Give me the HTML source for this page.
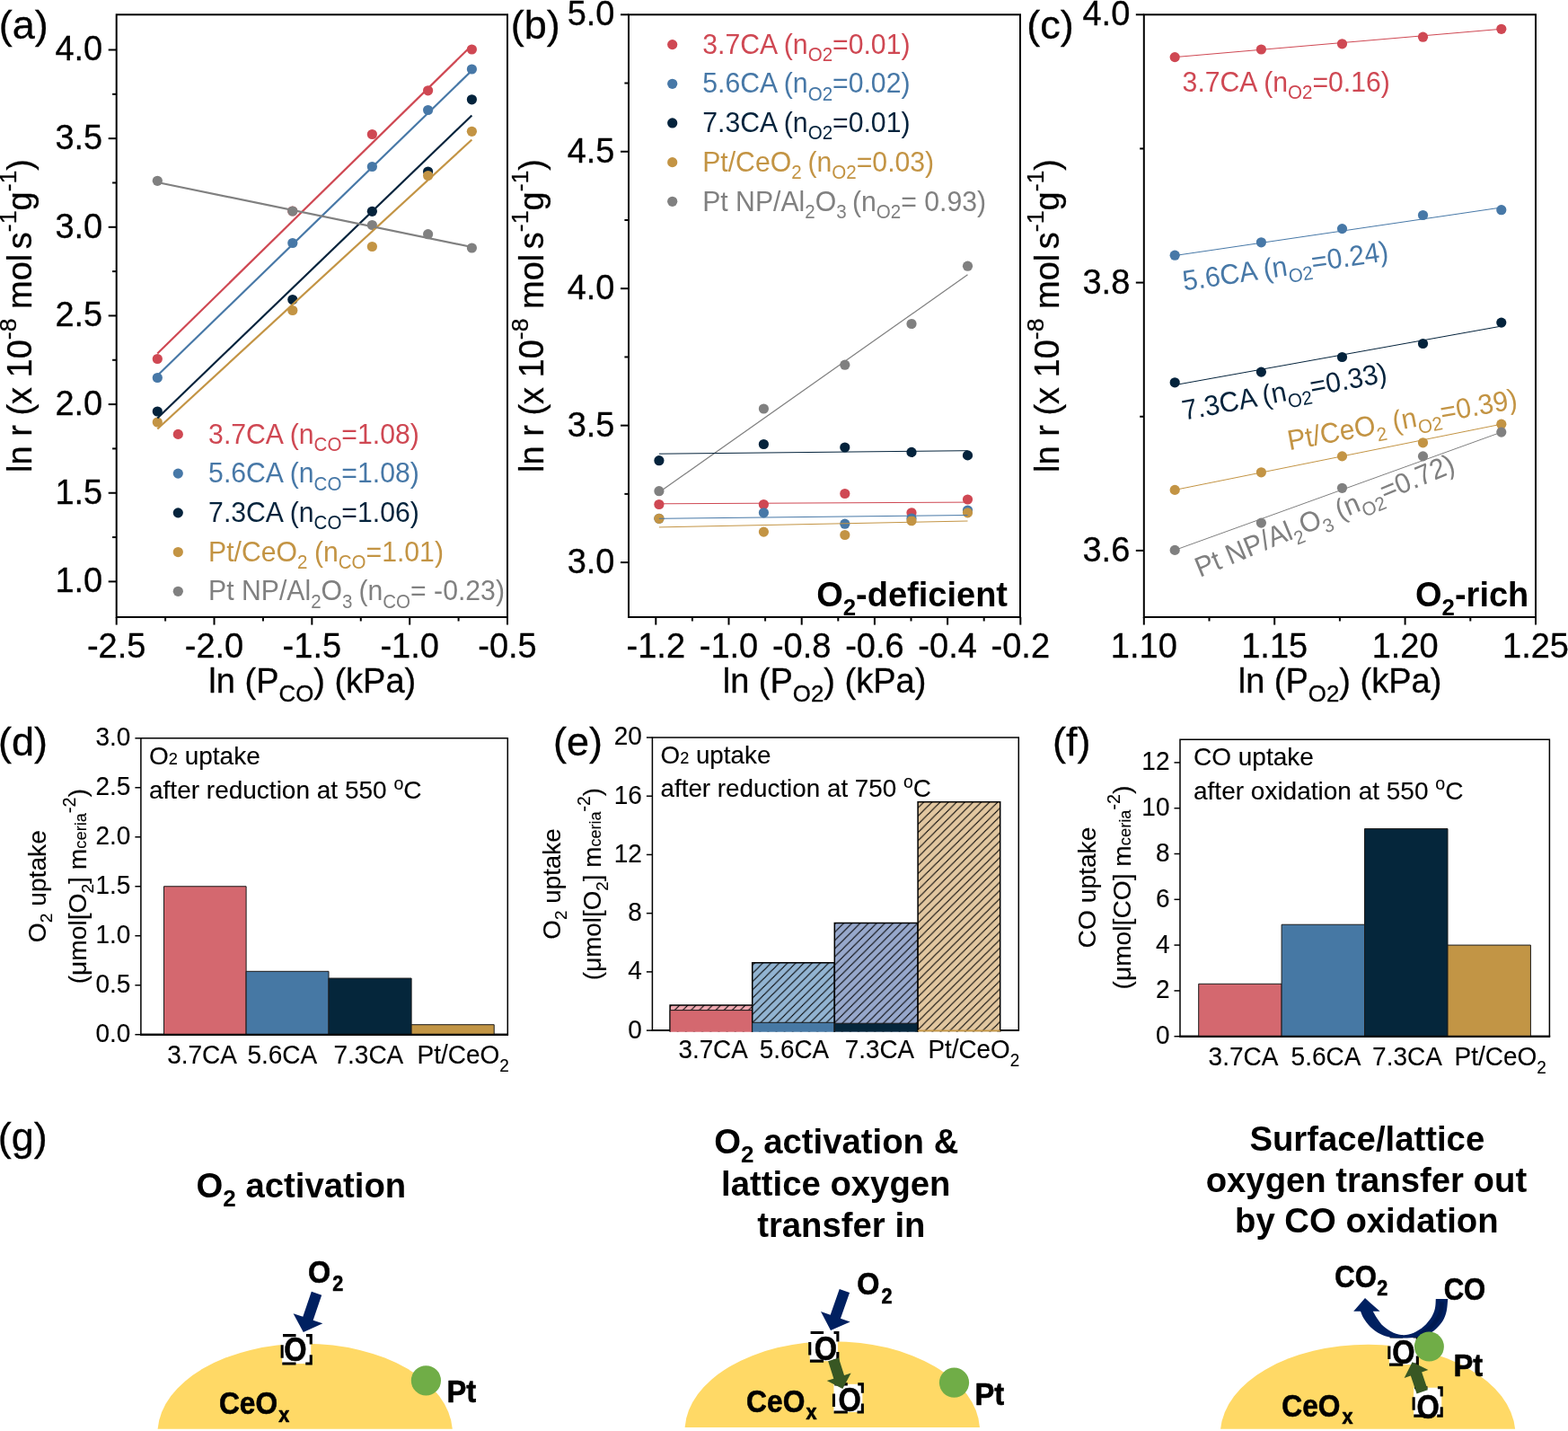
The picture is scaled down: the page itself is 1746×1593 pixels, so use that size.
<!DOCTYPE html>
<html lang="en"><head><meta charset="utf-8"><title>Figure</title>
<style>
html,body{margin:0;padding:0;background:#fff;}
body{width:1746px;height:1593px;overflow:hidden;}
svg{display:block;}
svg text{font-family:"Liberation Sans", Arial, sans-serif;}
</style></head><body>
<svg width="1746" height="1593" viewBox="0 0 1746 1593">
<defs>
<pattern id="hatch" patternUnits="userSpaceOnUse" width="9.15" height="9.15">
<path d="M-1,10.15 L10.15,-1 M-1,1 L1,-1 M8.15,10.15 L10.15,8.15" stroke="#000" stroke-width="1.1" fill="none"/>
</pattern>
</defs>
<rect width="1746" height="1593" fill="#fff"/>
<g id="panel-a">
<text font-size="45.00" stroke="#000" stroke-width="0.3" transform="translate(-1.30 43.00) scale(1 1.000)">(a)</text>
<circle cx="175.30" cy="399.50" r="5.60" fill="#cf4853"/>
<circle cx="325.80" cy="235.00" r="5.60" fill="#cf4853"/>
<circle cx="414.40" cy="149.50" r="5.60" fill="#cf4853"/>
<circle cx="476.60" cy="100.80" r="5.60" fill="#cf4853"/>
<circle cx="525.40" cy="55.00" r="5.60" fill="#cf4853"/>
<circle cx="175.30" cy="420.50" r="5.60" fill="#4778a7"/>
<circle cx="325.80" cy="270.50" r="5.60" fill="#4778a7"/>
<circle cx="414.40" cy="185.50" r="5.60" fill="#4778a7"/>
<circle cx="476.60" cy="122.50" r="5.60" fill="#4778a7"/>
<circle cx="525.40" cy="77.00" r="5.60" fill="#4778a7"/>
<circle cx="175.30" cy="458.00" r="5.60" fill="#04233c"/>
<circle cx="325.80" cy="333.50" r="5.60" fill="#04233c"/>
<circle cx="414.40" cy="235.30" r="5.60" fill="#04233c"/>
<circle cx="476.60" cy="191.00" r="5.60" fill="#04233c"/>
<circle cx="525.40" cy="110.80" r="5.60" fill="#04233c"/>
<circle cx="175.30" cy="470.00" r="5.60" fill="#c39444"/>
<circle cx="325.80" cy="345.50" r="5.60" fill="#c39444"/>
<circle cx="414.40" cy="274.50" r="5.60" fill="#c39444"/>
<circle cx="476.60" cy="195.50" r="5.60" fill="#c39444"/>
<circle cx="525.40" cy="146.30" r="5.60" fill="#c39444"/>
<circle cx="175.30" cy="201.30" r="5.60" fill="#808080"/>
<circle cx="325.80" cy="235.00" r="5.60" fill="#808080"/>
<circle cx="414.40" cy="250.50" r="5.60" fill="#808080"/>
<circle cx="476.60" cy="260.70" r="5.60" fill="#808080"/>
<circle cx="525.40" cy="276.00" r="5.60" fill="#808080"/>
<line x1="175.30" y1="393.50" x2="525.40" y2="50.50" stroke="#cf4853" stroke-width="2.2"/>
<line x1="175.30" y1="418.00" x2="525.40" y2="78.50" stroke="#4778a7" stroke-width="2.2"/>
<line x1="175.30" y1="465.50" x2="525.40" y2="128.50" stroke="#04233c" stroke-width="2.2"/>
<line x1="175.30" y1="477.50" x2="525.40" y2="155.50" stroke="#c39444" stroke-width="2.2"/>
<line x1="175.30" y1="203.00" x2="525.40" y2="275.00" stroke="#808080" stroke-width="2.2"/>
<rect x="129.70" y="16.30" width="435.30" height="670.70" fill="none" stroke="#000" stroke-width="2"/>
<line x1="120.70" y1="647.40" x2="129.70" y2="647.40" stroke="#000" stroke-width="2"/>
<text font-size="38.00" text-anchor="end" stroke="#000" stroke-width="0.3" transform="translate(114.20 659.30) scale(1 1.040)">1.0</text>
<line x1="120.70" y1="548.75" x2="129.70" y2="548.75" stroke="#000" stroke-width="2"/>
<text font-size="38.00" text-anchor="end" stroke="#000" stroke-width="0.3" transform="translate(114.20 560.65) scale(1 1.040)">1.5</text>
<line x1="120.70" y1="450.10" x2="129.70" y2="450.10" stroke="#000" stroke-width="2"/>
<text font-size="38.00" text-anchor="end" stroke="#000" stroke-width="0.3" transform="translate(114.20 462.00) scale(1 1.040)">2.0</text>
<line x1="120.70" y1="351.45" x2="129.70" y2="351.45" stroke="#000" stroke-width="2"/>
<text font-size="38.00" text-anchor="end" stroke="#000" stroke-width="0.3" transform="translate(114.20 363.35) scale(1 1.040)">2.5</text>
<line x1="120.70" y1="252.80" x2="129.70" y2="252.80" stroke="#000" stroke-width="2"/>
<text font-size="38.00" text-anchor="end" stroke="#000" stroke-width="0.3" transform="translate(114.20 264.70) scale(1 1.040)">3.0</text>
<line x1="120.70" y1="154.15" x2="129.70" y2="154.15" stroke="#000" stroke-width="2"/>
<text font-size="38.00" text-anchor="end" stroke="#000" stroke-width="0.3" transform="translate(114.20 166.05) scale(1 1.040)">3.5</text>
<line x1="120.70" y1="55.50" x2="129.70" y2="55.50" stroke="#000" stroke-width="2"/>
<text font-size="38.00" text-anchor="end" stroke="#000" stroke-width="0.3" transform="translate(114.20 67.40) scale(1 1.040)">4.0</text>
<line x1="125.10" y1="598.07" x2="129.70" y2="598.07" stroke="#000" stroke-width="2"/>
<line x1="125.10" y1="499.42" x2="129.70" y2="499.42" stroke="#000" stroke-width="2"/>
<line x1="125.10" y1="400.77" x2="129.70" y2="400.77" stroke="#000" stroke-width="2"/>
<line x1="125.10" y1="302.12" x2="129.70" y2="302.12" stroke="#000" stroke-width="2"/>
<line x1="125.10" y1="203.47" x2="129.70" y2="203.47" stroke="#000" stroke-width="2"/>
<line x1="125.10" y1="104.82" x2="129.70" y2="104.82" stroke="#000" stroke-width="2"/>
<line x1="129.70" y1="687.00" x2="129.70" y2="695.60" stroke="#000" stroke-width="2"/>
<text font-size="38.00" text-anchor="middle" stroke="#000" stroke-width="0.3" transform="translate(129.70 732.00) scale(1 1.040)">-2.5</text>
<line x1="238.52" y1="687.00" x2="238.52" y2="695.60" stroke="#000" stroke-width="2"/>
<text font-size="38.00" text-anchor="middle" stroke="#000" stroke-width="0.3" transform="translate(238.52 732.00) scale(1 1.040)">-2.0</text>
<line x1="347.35" y1="687.00" x2="347.35" y2="695.60" stroke="#000" stroke-width="2"/>
<text font-size="38.00" text-anchor="middle" stroke="#000" stroke-width="0.3" transform="translate(347.35 732.00) scale(1 1.040)">-1.5</text>
<line x1="456.18" y1="687.00" x2="456.18" y2="695.60" stroke="#000" stroke-width="2"/>
<text font-size="38.00" text-anchor="middle" stroke="#000" stroke-width="0.3" transform="translate(456.18 732.00) scale(1 1.040)">-1.0</text>
<line x1="565.00" y1="687.00" x2="565.00" y2="695.60" stroke="#000" stroke-width="2"/>
<text font-size="38.00" text-anchor="middle" stroke="#000" stroke-width="0.3" transform="translate(565.00 732.00) scale(1 1.040)">-0.5</text>
<line x1="184.11" y1="687.00" x2="184.11" y2="691.50" stroke="#000" stroke-width="2"/>
<line x1="292.94" y1="687.00" x2="292.94" y2="691.50" stroke="#000" stroke-width="2"/>
<line x1="401.76" y1="687.00" x2="401.76" y2="691.50" stroke="#000" stroke-width="2"/>
<line x1="510.59" y1="687.00" x2="510.59" y2="691.50" stroke="#000" stroke-width="2"/>
<text font-size="38.00" text-anchor="middle" stroke="#000" stroke-width="0.3" transform="translate(347.80 771.00) scale(1 1.000)">ln (P<tspan dy="10.07" font-size="25.84">CO</tspan><tspan dy="-10.07">) (kPa)</tspan></text>
<text font-size="38.00" text-anchor="middle" stroke="#000" stroke-width="0.3" transform="translate(34.60 351.50) rotate(-90) scale(1 1.000)">ln r (x 10<tspan dy="-16.34" font-size="26.60">-8</tspan><tspan dy="16.34"> mol</tspan><tspan dx="-5.00"> s</tspan><tspan dy="-16.34" font-size="26.60">-1</tspan><tspan dy="16.34">g</tspan><tspan dy="-16.34" font-size="26.60">-1</tspan><tspan dy="16.34">)</tspan></text>
<circle cx="198.30" cy="483.40" r="5.60" fill="#cf4853"/>
<text font-size="30.20" fill="#cf4853" transform="translate(232.10 493.50) scale(1 1.040)">3.7CA (n<tspan dy="8.00" font-size="20.54">CO</tspan><tspan dy="-8.00">=1.08)</tspan></text>
<circle cx="198.30" cy="527.12" r="5.60" fill="#4778a7"/>
<text font-size="30.20" fill="#4778a7" transform="translate(232.10 537.22) scale(1 1.040)">5.6CA (n<tspan dy="8.00" font-size="20.54">CO</tspan><tspan dy="-8.00">=1.08)</tspan></text>
<circle cx="198.30" cy="570.84" r="5.60" fill="#04233c"/>
<text font-size="30.20" fill="#04233c" transform="translate(232.10 580.94) scale(1 1.040)">7.3CA (n<tspan dy="8.00" font-size="20.54">CO</tspan><tspan dy="-8.00">=1.06)</tspan></text>
<circle cx="198.30" cy="614.56" r="5.60" fill="#c39444"/>
<text font-size="30.20" fill="#c39444" transform="translate(232.10 624.66) scale(1 1.040)">Pt/CeO<tspan dy="8.00" font-size="20.54">2</tspan><tspan dy="-8.00" dx="-1.00"> (n</tspan><tspan dy="8.00" font-size="20.54">CO</tspan><tspan dy="-8.00">=1.01)</tspan></text>
<circle cx="198.30" cy="658.28" r="5.60" fill="#808080"/>
<text font-size="30.20" fill="#808080" transform="translate(232.10 668.38) scale(1 1.040)">Pt NP/Al<tspan dy="8.00" font-size="20.54">2</tspan><tspan dy="-8.00">O</tspan><tspan dy="8.00" font-size="20.54">3</tspan><tspan dy="-8.00" dx="-1.50"> (n</tspan><tspan dy="8.00" font-size="20.54">CO</tspan><tspan dy="-8.00">= -0.23)</tspan></text>
</g>
<g id="panel-b">
<text font-size="45.00" stroke="#000" stroke-width="0.3" transform="translate(568.70 43.00) scale(1 1.000)">(b)</text>
<circle cx="733.90" cy="546.70" r="5.60" fill="#808080"/>
<circle cx="850.40" cy="455.00" r="5.60" fill="#808080"/>
<circle cx="940.80" cy="406.20" r="5.60" fill="#808080"/>
<circle cx="1015.00" cy="360.50" r="5.60" fill="#808080"/>
<circle cx="1077.50" cy="296.20" r="5.60" fill="#808080"/>
<circle cx="733.90" cy="512.70" r="5.60" fill="#04233c"/>
<circle cx="850.40" cy="494.50" r="5.60" fill="#04233c"/>
<circle cx="940.80" cy="498.00" r="5.60" fill="#04233c"/>
<circle cx="1015.00" cy="503.40" r="5.60" fill="#04233c"/>
<circle cx="1077.50" cy="506.90" r="5.60" fill="#04233c"/>
<circle cx="733.90" cy="561.50" r="5.60" fill="#cf4853"/>
<circle cx="850.40" cy="561.50" r="5.60" fill="#cf4853"/>
<circle cx="940.80" cy="549.50" r="5.60" fill="#cf4853"/>
<circle cx="1015.00" cy="570.80" r="5.60" fill="#cf4853"/>
<circle cx="1077.50" cy="556.00" r="5.60" fill="#cf4853"/>
<circle cx="733.90" cy="577.30" r="5.60" fill="#4778a7"/>
<circle cx="850.40" cy="570.80" r="5.60" fill="#4778a7"/>
<circle cx="940.80" cy="583.20" r="5.60" fill="#4778a7"/>
<circle cx="1015.00" cy="577.00" r="5.60" fill="#4778a7"/>
<circle cx="1077.50" cy="568.00" r="5.60" fill="#4778a7"/>
<circle cx="733.90" cy="577.30" r="5.60" fill="#c39444"/>
<circle cx="850.40" cy="592.10" r="5.60" fill="#c39444"/>
<circle cx="940.80" cy="595.50" r="5.60" fill="#c39444"/>
<circle cx="1015.00" cy="579.70" r="5.60" fill="#c39444"/>
<circle cx="1077.50" cy="570.80" r="5.60" fill="#c39444"/>
<line x1="733.90" y1="548.00" x2="1077.50" y2="305.80" stroke="#808080" stroke-width="1.25"/>
<line x1="733.90" y1="505.20" x2="1077.50" y2="501.70" stroke="#04233c" stroke-width="1"/>
<line x1="733.90" y1="560.80" x2="1077.50" y2="559.10" stroke="#cf4853" stroke-width="1"/>
<line x1="733.90" y1="577.30" x2="1077.50" y2="573.50" stroke="#4778a7" stroke-width="1"/>
<line x1="733.90" y1="586.90" x2="1077.50" y2="580.00" stroke="#c39444" stroke-width="1"/>
<rect x="700.00" y="16.30" width="436.00" height="670.70" fill="none" stroke="#000" stroke-width="2"/>
<line x1="691.00" y1="626.10" x2="700.00" y2="626.10" stroke="#000" stroke-width="2"/>
<text font-size="38.00" text-anchor="end" stroke="#000" stroke-width="0.3" transform="translate(684.50 638.00) scale(1 1.040)">3.0</text>
<line x1="691.00" y1="473.65" x2="700.00" y2="473.65" stroke="#000" stroke-width="2"/>
<text font-size="38.00" text-anchor="end" stroke="#000" stroke-width="0.3" transform="translate(684.50 485.55) scale(1 1.040)">3.5</text>
<line x1="691.00" y1="321.20" x2="700.00" y2="321.20" stroke="#000" stroke-width="2"/>
<text font-size="38.00" text-anchor="end" stroke="#000" stroke-width="0.3" transform="translate(684.50 333.10) scale(1 1.040)">4.0</text>
<line x1="691.00" y1="168.75" x2="700.00" y2="168.75" stroke="#000" stroke-width="2"/>
<text font-size="38.00" text-anchor="end" stroke="#000" stroke-width="0.3" transform="translate(684.50 180.65) scale(1 1.040)">4.5</text>
<line x1="691.00" y1="16.30" x2="700.00" y2="16.30" stroke="#000" stroke-width="2"/>
<text font-size="38.00" text-anchor="end" stroke="#000" stroke-width="0.3" transform="translate(684.50 28.20) scale(1 1.040)">5.0</text>
<line x1="695.40" y1="549.88" x2="700.00" y2="549.88" stroke="#000" stroke-width="2"/>
<line x1="695.40" y1="397.43" x2="700.00" y2="397.43" stroke="#000" stroke-width="2"/>
<line x1="695.40" y1="244.98" x2="700.00" y2="244.98" stroke="#000" stroke-width="2"/>
<line x1="695.40" y1="92.53" x2="700.00" y2="92.53" stroke="#000" stroke-width="2"/>
<line x1="730.30" y1="687.00" x2="730.30" y2="695.60" stroke="#000" stroke-width="2"/>
<text font-size="38.00" text-anchor="middle" stroke="#000" stroke-width="0.3" transform="translate(730.30 732.00) scale(1 1.040)">-1.2</text>
<line x1="811.50" y1="687.00" x2="811.50" y2="695.60" stroke="#000" stroke-width="2"/>
<text font-size="38.00" text-anchor="middle" stroke="#000" stroke-width="0.3" transform="translate(811.50 732.00) scale(1 1.040)">-1.0</text>
<line x1="892.70" y1="687.00" x2="892.70" y2="695.60" stroke="#000" stroke-width="2"/>
<text font-size="38.00" text-anchor="middle" stroke="#000" stroke-width="0.3" transform="translate(892.70 732.00) scale(1 1.040)">-0.8</text>
<line x1="973.90" y1="687.00" x2="973.90" y2="695.60" stroke="#000" stroke-width="2"/>
<text font-size="38.00" text-anchor="middle" stroke="#000" stroke-width="0.3" transform="translate(973.90 732.00) scale(1 1.040)">-0.6</text>
<line x1="1055.10" y1="687.00" x2="1055.10" y2="695.60" stroke="#000" stroke-width="2"/>
<text font-size="38.00" text-anchor="middle" stroke="#000" stroke-width="0.3" transform="translate(1055.10 732.00) scale(1 1.040)">-0.4</text>
<line x1="1136.30" y1="687.00" x2="1136.30" y2="695.60" stroke="#000" stroke-width="2"/>
<text font-size="38.00" text-anchor="middle" stroke="#000" stroke-width="0.3" transform="translate(1136.30 732.00) scale(1 1.040)">-0.2</text>
<line x1="770.90" y1="687.00" x2="770.90" y2="691.50" stroke="#000" stroke-width="2"/>
<line x1="852.10" y1="687.00" x2="852.10" y2="691.50" stroke="#000" stroke-width="2"/>
<line x1="933.30" y1="687.00" x2="933.30" y2="691.50" stroke="#000" stroke-width="2"/>
<line x1="1014.50" y1="687.00" x2="1014.50" y2="691.50" stroke="#000" stroke-width="2"/>
<line x1="1095.70" y1="687.00" x2="1095.70" y2="691.50" stroke="#000" stroke-width="2"/>
<text font-size="38.00" text-anchor="middle" stroke="#000" stroke-width="0.3" transform="translate(918.00 771.00) scale(1 1.000)">ln (P<tspan dy="10.07" font-size="25.84">O2</tspan><tspan dy="-10.07">) (kPa)</tspan></text>
<text font-size="38.00" text-anchor="middle" stroke="#000" stroke-width="0.3" transform="translate(604.80 351.50) rotate(-90) scale(1 1.000)">ln r (x 10<tspan dy="-16.34" font-size="26.60">-8</tspan><tspan dy="16.34"> mol</tspan><tspan dx="-5.00"> s</tspan><tspan dy="-16.34" font-size="26.60">-1</tspan><tspan dy="16.34">g</tspan><tspan dy="-16.34" font-size="26.60">-1</tspan><tspan dy="16.34">)</tspan></text>
<circle cx="748.70" cy="49.60" r="5.60" fill="#cf4853"/>
<text font-size="30.20" fill="#cf4853" transform="translate(782.20 59.80) scale(1 1.040)">3.7CA (n<tspan dy="8.00" font-size="20.54">O2</tspan><tspan dy="-8.00">=0.01)</tspan></text>
<circle cx="748.70" cy="93.28" r="5.60" fill="#4778a7"/>
<text font-size="30.20" fill="#4778a7" transform="translate(782.20 103.48) scale(1 1.040)">5.6CA (n<tspan dy="8.00" font-size="20.54">O2</tspan><tspan dy="-8.00">=0.02)</tspan></text>
<circle cx="748.70" cy="136.96" r="5.60" fill="#04233c"/>
<text font-size="30.20" fill="#04233c" transform="translate(782.20 147.16) scale(1 1.040)">7.3CA (n<tspan dy="8.00" font-size="20.54">O2</tspan><tspan dy="-8.00">=0.01)</tspan></text>
<circle cx="748.70" cy="180.64" r="5.60" fill="#c39444"/>
<text font-size="30.20" fill="#c39444" transform="translate(782.20 190.84) scale(1 1.040)">Pt/CeO<tspan dy="8.00" font-size="20.54">2</tspan><tspan dy="-8.00" dx="-1.50"> (n</tspan><tspan dy="8.00" font-size="20.54">O2</tspan><tspan dy="-8.00">=0.03)</tspan></text>
<circle cx="748.70" cy="224.32" r="5.60" fill="#808080"/>
<text font-size="30.20" fill="#808080" transform="translate(782.20 234.52) scale(1 1.040)">Pt NP/Al<tspan dy="8.00" font-size="20.54">2</tspan><tspan dy="-8.00">O</tspan><tspan dy="8.00" font-size="20.54">3</tspan><tspan dy="-8.00" dx="-2.00"> (n</tspan><tspan dy="8.00" font-size="20.54">O2</tspan><tspan dy="-8.00">= 0.93)</tspan></text>
<text font-size="38.00" text-anchor="end" font-weight="bold" transform="translate(1122.00 675.00) scale(1 1.000)">O<tspan dy="10.07" font-size="25.84">2</tspan><tspan dy="-10.07">-deficient</tspan></text>
</g>
<g id="panel-c">
<text font-size="45.00" stroke="#000" stroke-width="0.3" transform="translate(1143.20 43.00) scale(1 1.000)">(c)</text>
<line x1="1308.20" y1="63.60" x2="1671.80" y2="32.30" stroke="#cf4853" stroke-width="1"/>
<line x1="1308.20" y1="284.50" x2="1671.80" y2="231.00" stroke="#4778a7" stroke-width="1"/>
<line x1="1308.20" y1="428.60" x2="1671.80" y2="363.10" stroke="#04233c" stroke-width="1"/>
<line x1="1308.20" y1="545.40" x2="1671.80" y2="472.20" stroke="#c39444" stroke-width="1"/>
<line x1="1308.20" y1="612.40" x2="1671.80" y2="481.10" stroke="#808080" stroke-width="1"/>
<circle cx="1308.20" cy="63.60" r="5.60" fill="#cf4853"/>
<circle cx="1404.40" cy="55.00" r="5.60" fill="#cf4853"/>
<circle cx="1494.50" cy="48.80" r="5.60" fill="#cf4853"/>
<circle cx="1584.50" cy="41.20" r="5.60" fill="#cf4853"/>
<circle cx="1671.80" cy="32.30" r="5.60" fill="#cf4853"/>
<circle cx="1308.20" cy="284.20" r="5.60" fill="#4778a7"/>
<circle cx="1404.40" cy="269.80" r="5.60" fill="#4778a7"/>
<circle cx="1494.50" cy="254.60" r="5.60" fill="#4778a7"/>
<circle cx="1584.50" cy="239.50" r="5.60" fill="#4778a7"/>
<circle cx="1671.80" cy="233.70" r="5.60" fill="#4778a7"/>
<circle cx="1308.20" cy="425.80" r="5.60" fill="#04233c"/>
<circle cx="1404.40" cy="414.10" r="5.60" fill="#04233c"/>
<circle cx="1494.50" cy="397.50" r="5.60" fill="#04233c"/>
<circle cx="1584.50" cy="382.50" r="5.60" fill="#04233c"/>
<circle cx="1671.80" cy="359.10" r="5.60" fill="#04233c"/>
<circle cx="1308.20" cy="545.40" r="5.60" fill="#c39444"/>
<circle cx="1404.40" cy="525.80" r="5.60" fill="#c39444"/>
<circle cx="1494.50" cy="507.90" r="5.60" fill="#c39444"/>
<circle cx="1584.50" cy="492.80" r="5.60" fill="#c39444"/>
<circle cx="1671.80" cy="472.20" r="5.60" fill="#c39444"/>
<circle cx="1308.20" cy="612.40" r="5.60" fill="#808080"/>
<circle cx="1404.40" cy="582.10" r="5.60" fill="#808080"/>
<circle cx="1494.50" cy="543.30" r="5.60" fill="#808080"/>
<circle cx="1584.50" cy="507.90" r="5.60" fill="#808080"/>
<circle cx="1671.80" cy="481.10" r="5.60" fill="#808080"/>
<rect x="1273.80" y="16.30" width="436.20" height="670.70" fill="none" stroke="#000" stroke-width="2"/>
<line x1="1264.80" y1="612.90" x2="1273.80" y2="612.90" stroke="#000" stroke-width="2"/>
<text font-size="38.00" text-anchor="end" stroke="#000" stroke-width="0.3" transform="translate(1258.30 624.80) scale(1 1.040)">3.6</text>
<line x1="1264.80" y1="314.60" x2="1273.80" y2="314.60" stroke="#000" stroke-width="2"/>
<text font-size="38.00" text-anchor="end" stroke="#000" stroke-width="0.3" transform="translate(1258.30 326.50) scale(1 1.040)">3.8</text>
<line x1="1264.80" y1="16.30" x2="1273.80" y2="16.30" stroke="#000" stroke-width="2"/>
<text font-size="38.00" text-anchor="end" stroke="#000" stroke-width="0.3" transform="translate(1258.30 28.20) scale(1 1.040)">4.0</text>
<line x1="1269.20" y1="463.75" x2="1273.80" y2="463.75" stroke="#000" stroke-width="2"/>
<line x1="1269.20" y1="165.45" x2="1273.80" y2="165.45" stroke="#000" stroke-width="2"/>
<line x1="1273.80" y1="687.00" x2="1273.80" y2="695.60" stroke="#000" stroke-width="2"/>
<text font-size="38.00" text-anchor="middle" stroke="#000" stroke-width="0.3" transform="translate(1273.80 732.00) scale(1 1.040)">1.10</text>
<line x1="1419.20" y1="687.00" x2="1419.20" y2="695.60" stroke="#000" stroke-width="2"/>
<text font-size="38.00" text-anchor="middle" stroke="#000" stroke-width="0.3" transform="translate(1419.20 732.00) scale(1 1.040)">1.15</text>
<line x1="1564.60" y1="687.00" x2="1564.60" y2="695.60" stroke="#000" stroke-width="2"/>
<text font-size="38.00" text-anchor="middle" stroke="#000" stroke-width="0.3" transform="translate(1564.60 732.00) scale(1 1.040)">1.20</text>
<line x1="1710.00" y1="687.00" x2="1710.00" y2="695.60" stroke="#000" stroke-width="2"/>
<text font-size="38.00" text-anchor="middle" stroke="#000" stroke-width="0.3" transform="translate(1710.00 732.00) scale(1 1.040)">1.25</text>
<line x1="1346.50" y1="687.00" x2="1346.50" y2="691.50" stroke="#000" stroke-width="2"/>
<line x1="1491.90" y1="687.00" x2="1491.90" y2="691.50" stroke="#000" stroke-width="2"/>
<line x1="1637.30" y1="687.00" x2="1637.30" y2="691.50" stroke="#000" stroke-width="2"/>
<text font-size="38.00" text-anchor="middle" stroke="#000" stroke-width="0.3" transform="translate(1492.00 771.00) scale(1 1.000)">ln (P<tspan dy="10.07" font-size="25.84">O2</tspan><tspan dy="-10.07">) (kPa)</tspan></text>
<text font-size="38.00" text-anchor="middle" stroke="#000" stroke-width="0.3" transform="translate(1178.50 351.50) rotate(-90) scale(1 1.000)">ln r (x 10<tspan dy="-16.34" font-size="26.60">-8</tspan><tspan dy="16.34"> mol</tspan><tspan dx="-5.00"> s</tspan><tspan dy="-16.34" font-size="26.60">-1</tspan><tspan dy="16.34">g</tspan><tspan dy="-16.34" font-size="26.60">-1</tspan><tspan dy="16.34">)</tspan></text>
<text font-size="30.20" fill="#cf4853" transform="translate(1316.60 102.00) scale(1 1.040)">3.7CA (n<tspan dy="8.00" font-size="20.54">O2</tspan><tspan dy="-8.00">=0.16)</tspan></text>
<text font-size="30.20" fill="#4778a7" transform="translate(1318.50 323.60) rotate(-8.4) scale(1 1.040)">5.6CA (n<tspan dy="8.00" font-size="20.54">O2</tspan><tspan dy="-8.00">=0.24)</tspan></text>
<text font-size="30.20" fill="#04233c" transform="translate(1318.50 467.80) rotate(-10.7) scale(1 1.040)">7.3CA (n<tspan dy="8.00" font-size="20.54">O2</tspan><tspan dy="-8.00">=0.33)</tspan></text>
<text font-size="30.20" fill="#c39444" transform="translate(1435.70 501.30) rotate(-10.5) scale(1 1.040)">Pt/CeO<tspan dy="8.00" font-size="20.54">2</tspan><tspan dy="-8.00"> (n</tspan><tspan dy="8.00" font-size="20.54">O2</tspan><tspan dy="-8.00">=0.39)</tspan></text>
<text font-size="30.20" fill="#808080" transform="translate(1336.00 643.00) rotate(-22.5) scale(1 1.040)">Pt NP/Al<tspan dy="8.00" font-size="20.54">2</tspan><tspan dy="-8.00">O</tspan><tspan dy="8.00" font-size="20.54">3</tspan><tspan dy="-8.00"> (n</tspan><tspan dy="8.00" font-size="20.54">O2</tspan><tspan dy="-8.00">=0.72)</tspan></text>
<text font-size="38.00" text-anchor="end" font-weight="bold" transform="translate(1702.30 675.00) scale(1 1.000)">O<tspan dy="10.07" font-size="25.84">2</tspan><tspan dy="-10.07">-rich</tspan></text>
</g>
<g id="panel-d">
<text font-size="45.00" stroke="#000" stroke-width="0.3" transform="translate(-1.90 840.70) scale(1 1.000)">(d)</text>
<path d="M156.90,1151.70 L156.90,821.80 L565.30,821.80 L565.30,1151.70" fill="none" stroke="#000" stroke-width="1.5"/>
<line x1="156.15" y1="1151.70" x2="566.05" y2="1151.70" stroke="#000" stroke-width="2"/>
<rect x="182.50" y="986.75" width="91.60" height="164.95" fill="#d4686f" stroke="none" stroke-width="1"/>
<path d="M182.50,1151.70 L182.50,986.75 L274.10,986.75 L274.10,1151.70" fill="none" stroke="#1a1a1a" stroke-width="1"/>
<rect x="274.10" y="1081.32" width="91.90" height="70.38" fill="#4678a4" stroke="none" stroke-width="1"/>
<path d="M274.10,1151.70 L274.10,1081.32 L366.00,1081.32 L366.00,1151.70" fill="none" stroke="#1a1a1a" stroke-width="1"/>
<rect x="366.00" y="1089.02" width="92.10" height="62.68" fill="#05263b" stroke="none" stroke-width="1"/>
<path d="M366.00,1151.70 L366.00,1089.02 L458.10,1089.02 L458.10,1151.70" fill="none" stroke="#1a1a1a" stroke-width="1"/>
<rect x="458.10" y="1140.70" width="92.10" height="11.00" fill="#c29545" stroke="none" stroke-width="1"/>
<path d="M458.10,1151.70 L458.10,1140.70 L550.20,1140.70 L550.20,1151.70" fill="none" stroke="#1a1a1a" stroke-width="1"/>
<line x1="156.15" y1="1151.70" x2="566.05" y2="1151.70" stroke="#000" stroke-width="2"/>
<line x1="150.40" y1="1151.70" x2="156.90" y2="1151.70" stroke="#000" stroke-width="1.5"/>
<text font-size="28.00" text-anchor="end" stroke="#000" stroke-width="0.12" transform="translate(145.40 1160.10) scale(1 1.040)">0.0</text>
<line x1="150.40" y1="1096.72" x2="156.90" y2="1096.72" stroke="#000" stroke-width="1.5"/>
<text font-size="28.00" text-anchor="end" stroke="#000" stroke-width="0.12" transform="translate(145.40 1105.12) scale(1 1.040)">0.5</text>
<line x1="150.40" y1="1041.73" x2="156.90" y2="1041.73" stroke="#000" stroke-width="1.5"/>
<text font-size="28.00" text-anchor="end" stroke="#000" stroke-width="0.12" transform="translate(145.40 1050.13) scale(1 1.040)">1.0</text>
<line x1="150.40" y1="986.75" x2="156.90" y2="986.75" stroke="#000" stroke-width="1.5"/>
<text font-size="28.00" text-anchor="end" stroke="#000" stroke-width="0.12" transform="translate(145.40 995.15) scale(1 1.040)">1.5</text>
<line x1="150.40" y1="931.76" x2="156.90" y2="931.76" stroke="#000" stroke-width="1.5"/>
<text font-size="28.00" text-anchor="end" stroke="#000" stroke-width="0.12" transform="translate(145.40 940.16) scale(1 1.040)">2.0</text>
<line x1="150.40" y1="876.78" x2="156.90" y2="876.78" stroke="#000" stroke-width="1.5"/>
<text font-size="28.00" text-anchor="end" stroke="#000" stroke-width="0.12" transform="translate(145.40 885.18) scale(1 1.040)">2.5</text>
<line x1="150.40" y1="821.79" x2="156.90" y2="821.79" stroke="#000" stroke-width="1.5"/>
<text font-size="28.00" text-anchor="end" stroke="#000" stroke-width="0.12" transform="translate(145.40 830.19) scale(1 1.040)">3.0</text>
<text font-size="28.00" stroke="#000" stroke-width="0.12" transform="translate(166.00 850.70) scale(1 1.000)">O<tspan dy="0.00" font-size="18.20">2</tspan> uptake</text>
<text font-size="28.00" stroke="#000" stroke-width="0.12" transform="translate(166.00 889.00) scale(1 1.000)">after reduction at 550 <tspan dy="-10.36" font-size="19.60">o</tspan><tspan dy="10.36">C</tspan></text>
<text font-size="28.20" text-anchor="middle" stroke="#000" stroke-width="0.12" transform="translate(50.70 986.70) rotate(-90) scale(1 1.000)">O<tspan dy="7.47" font-size="19.18">2</tspan><tspan dy="-7.47"> uptake</tspan></text>
<text font-size="28.20" text-anchor="middle" stroke="#000" stroke-width="0.12" transform="translate(96.20 986.70) rotate(-90) scale(1 1.000)">(μmol[O<tspan dy="7.47" font-size="19.18">2</tspan><tspan dy="-7.47">] m</tspan><tspan dy="0.00" font-size="18.33">ceria</tspan><tspan dy="-12.13" font-size="19.74">-2</tspan><tspan dy="12.13">)</tspan></text>
<text font-size="28.00" text-anchor="middle" stroke="#000" stroke-width="0.12" transform="translate(225.10 1183.80) scale(1 1.040)">3.7CA</text>
<text font-size="28.00" text-anchor="middle" stroke="#000" stroke-width="0.12" transform="translate(314.30 1183.80) scale(1 1.040)">5.6CA</text>
<text font-size="28.00" text-anchor="middle" stroke="#000" stroke-width="0.12" transform="translate(410.40 1183.80) scale(1 1.040)">7.3CA</text>
<text font-size="28.00" stroke="#000" stroke-width="0.12" transform="translate(464.60 1183.80) scale(1 1.040)">Pt/CeO<tspan dy="8.96" font-size="19.04">2</tspan></text>
</g>
<g id="panel-e">
<text font-size="45.00" stroke="#000" stroke-width="0.3" transform="translate(616.00 840.70) scale(1 1.000)">(e)</text>
<path d="M726.40,1147.10 L726.40,821.00 L1134.30,821.00 L1134.30,1147.10" fill="none" stroke="#000" stroke-width="1.5"/>
<line x1="725.65" y1="1147.10" x2="1135.05" y2="1147.10" stroke="#000" stroke-width="2"/>
<rect x="746.10" y="1119.10" width="91.60" height="29.50" fill="#efa9b1" stroke="none" stroke-width="1"/>
<rect x="746.10" y="1119.10" width="91.60" height="29.50" fill="url(#hatch)" stroke="none" stroke-width="1"/>
<path d="M746.10,1148.60 L746.10,1119.10 L837.70,1119.10 L837.70,1148.60" fill="none" stroke="#000" stroke-width="1.5"/>
<rect x="746.10" y="1124.60" width="91.60" height="24.00" fill="#d4686f" stroke="none" stroke-width="1"/>
<path d="M746.10,1148.60 L746.10,1124.60 L837.70,1124.60 L837.70,1148.60" fill="none" stroke="#1a1a1a" stroke-width="1"/>
<rect x="837.70" y="1071.80" width="91.60" height="76.80" fill="#92b4d2" stroke="none" stroke-width="1"/>
<rect x="837.70" y="1071.80" width="91.60" height="76.80" fill="url(#hatch)" stroke="none" stroke-width="1"/>
<path d="M837.70,1148.60 L837.70,1071.80 L929.30,1071.80 L929.30,1148.60" fill="none" stroke="#000" stroke-width="1.5"/>
<rect x="837.70" y="1138.30" width="91.60" height="10.30" fill="#4678a4" stroke="none" stroke-width="1"/>
<path d="M837.70,1148.60 L837.70,1138.30 L929.30,1138.30 L929.30,1148.60" fill="none" stroke="#1a1a1a" stroke-width="1"/>
<rect x="929.30" y="1027.50" width="92.80" height="121.10" fill="#97a8cc" stroke="none" stroke-width="1"/>
<rect x="929.30" y="1027.50" width="92.80" height="121.10" fill="url(#hatch)" stroke="none" stroke-width="1"/>
<path d="M929.30,1148.60 L929.30,1027.50 L1022.10,1027.50 L1022.10,1148.60" fill="none" stroke="#000" stroke-width="1.5"/>
<rect x="929.30" y="1139.20" width="92.80" height="9.40" fill="#05263b" stroke="none" stroke-width="1"/>
<path d="M929.30,1148.60 L929.30,1139.20 L1022.10,1139.20 L1022.10,1148.60" fill="none" stroke="#1a1a1a" stroke-width="1"/>
<rect x="1022.10" y="892.80" width="91.60" height="255.80" fill="#e2c7a0" stroke="none" stroke-width="1"/>
<rect x="1022.10" y="892.80" width="91.60" height="255.80" fill="url(#hatch)" stroke="none" stroke-width="1"/>
<path d="M1022.10,1148.60 L1022.10,892.80 L1113.70,892.80 L1113.70,1148.60" fill="none" stroke="#000" stroke-width="1.5"/>
<rect x="1022.10" y="1146.60" width="91.60" height="1.60" fill="#c29545" stroke="none" stroke-width="1"/>
<line x1="719.90" y1="1147.10" x2="726.40" y2="1147.10" stroke="#000" stroke-width="1.5"/>
<text font-size="28.00" text-anchor="end" stroke="#000" stroke-width="0.12" transform="translate(714.90 1155.50) scale(1 1.040)">0</text>
<line x1="719.90" y1="1081.88" x2="726.40" y2="1081.88" stroke="#000" stroke-width="1.5"/>
<text font-size="28.00" text-anchor="end" stroke="#000" stroke-width="0.12" transform="translate(714.90 1090.28) scale(1 1.040)">4</text>
<line x1="719.90" y1="1016.66" x2="726.40" y2="1016.66" stroke="#000" stroke-width="1.5"/>
<text font-size="28.00" text-anchor="end" stroke="#000" stroke-width="0.12" transform="translate(714.90 1025.06) scale(1 1.040)">8</text>
<line x1="719.90" y1="951.44" x2="726.40" y2="951.44" stroke="#000" stroke-width="1.5"/>
<text font-size="28.00" text-anchor="end" stroke="#000" stroke-width="0.12" transform="translate(714.90 959.84) scale(1 1.040)">12</text>
<line x1="719.90" y1="886.22" x2="726.40" y2="886.22" stroke="#000" stroke-width="1.5"/>
<text font-size="28.00" text-anchor="end" stroke="#000" stroke-width="0.12" transform="translate(714.90 894.62) scale(1 1.040)">16</text>
<line x1="719.90" y1="821.00" x2="726.40" y2="821.00" stroke="#000" stroke-width="1.5"/>
<text font-size="28.00" text-anchor="end" stroke="#000" stroke-width="0.12" transform="translate(714.90 829.40) scale(1 1.040)">20</text>
<text font-size="27.80" stroke="#000" stroke-width="0.12" transform="translate(735.50 850.00) scale(1 1.000)">O<tspan dy="0.00" font-size="18.07">2</tspan> uptake</text>
<text font-size="27.80" stroke="#000" stroke-width="0.12" transform="translate(735.50 886.80) scale(1 1.000)">after reduction at 750 <tspan dy="-10.29" font-size="19.46">o</tspan><tspan dy="10.29">C</tspan></text>
<text font-size="27.80" text-anchor="middle" stroke="#000" stroke-width="0.12" transform="translate(624.00 984.00) rotate(-90) scale(1 1.000)">O<tspan dy="7.37" font-size="18.90">2</tspan><tspan dy="-7.37"> uptake</tspan></text>
<text font-size="27.80" text-anchor="middle" stroke="#000" stroke-width="0.12" transform="translate(669.20 984.00) rotate(-90) scale(1 1.000)">(μmol[O<tspan dy="7.37" font-size="18.90">2</tspan><tspan dy="-7.37">] m</tspan><tspan dy="0.00" font-size="18.07">ceria</tspan><tspan dy="-11.95" font-size="19.46">-2</tspan><tspan dy="11.95">)</tspan></text>
<text font-size="27.80" text-anchor="middle" stroke="#000" stroke-width="0.12" transform="translate(794.10 1177.80) scale(1 1.040)">3.7CA</text>
<text font-size="27.80" text-anchor="middle" stroke="#000" stroke-width="0.12" transform="translate(884.40 1177.80) scale(1 1.040)">5.6CA</text>
<text font-size="27.80" text-anchor="middle" stroke="#000" stroke-width="0.12" transform="translate(979.50 1177.80) scale(1 1.040)">7.3CA</text>
<text font-size="27.80" stroke="#000" stroke-width="0.12" transform="translate(1033.50 1177.80) scale(1 1.040)">Pt/CeO<tspan dy="8.90" font-size="18.90">2</tspan></text>
</g>
<g id="panel-f">
<text font-size="45.00" stroke="#000" stroke-width="0.3" transform="translate(1172.00 840.70) scale(1 1.000)">(f)</text>
<path d="M1314.00,1153.70 L1314.00,823.30 L1725.40,823.30 L1725.40,1153.70" fill="none" stroke="#000" stroke-width="1.5"/>
<line x1="1313.25" y1="1153.70" x2="1726.15" y2="1153.70" stroke="#000" stroke-width="2"/>
<rect x="1334.70" y="1095.28" width="92.40" height="58.42" fill="#d4686f" stroke="none" stroke-width="1"/>
<path d="M1334.70,1153.70 L1334.70,1095.28 L1427.10,1095.28 L1427.10,1153.70" fill="none" stroke="#1a1a1a" stroke-width="1"/>
<rect x="1427.10" y="1029.24" width="92.40" height="124.46" fill="#4678a4" stroke="none" stroke-width="1"/>
<path d="M1427.10,1153.70 L1427.10,1029.24 L1519.50,1029.24 L1519.50,1153.70" fill="none" stroke="#1a1a1a" stroke-width="1"/>
<rect x="1519.50" y="922.56" width="92.50" height="231.14" fill="#05263b" stroke="none" stroke-width="1"/>
<path d="M1519.50,1153.70 L1519.50,922.56 L1612.00,922.56 L1612.00,1153.70" fill="none" stroke="#1a1a1a" stroke-width="1"/>
<rect x="1612.00" y="1052.10" width="92.40" height="101.60" fill="#c29545" stroke="none" stroke-width="1"/>
<path d="M1612.00,1153.70 L1612.00,1052.10 L1704.40,1052.10 L1704.40,1153.70" fill="none" stroke="#1a1a1a" stroke-width="1"/>
<line x1="1313.25" y1="1153.70" x2="1726.15" y2="1153.70" stroke="#000" stroke-width="2"/>
<line x1="1307.50" y1="1153.70" x2="1314.00" y2="1153.70" stroke="#000" stroke-width="1.5"/>
<text font-size="28.00" text-anchor="end" stroke="#000" stroke-width="0.12" transform="translate(1302.50 1162.10) scale(1 1.040)">0</text>
<line x1="1307.50" y1="1102.90" x2="1314.00" y2="1102.90" stroke="#000" stroke-width="1.5"/>
<text font-size="28.00" text-anchor="end" stroke="#000" stroke-width="0.12" transform="translate(1302.50 1111.30) scale(1 1.040)">2</text>
<line x1="1307.50" y1="1052.10" x2="1314.00" y2="1052.10" stroke="#000" stroke-width="1.5"/>
<text font-size="28.00" text-anchor="end" stroke="#000" stroke-width="0.12" transform="translate(1302.50 1060.50) scale(1 1.040)">4</text>
<line x1="1307.50" y1="1001.30" x2="1314.00" y2="1001.30" stroke="#000" stroke-width="1.5"/>
<text font-size="28.00" text-anchor="end" stroke="#000" stroke-width="0.12" transform="translate(1302.50 1009.70) scale(1 1.040)">6</text>
<line x1="1307.50" y1="950.50" x2="1314.00" y2="950.50" stroke="#000" stroke-width="1.5"/>
<text font-size="28.00" text-anchor="end" stroke="#000" stroke-width="0.12" transform="translate(1302.50 958.90) scale(1 1.040)">8</text>
<line x1="1307.50" y1="899.70" x2="1314.00" y2="899.70" stroke="#000" stroke-width="1.5"/>
<text font-size="28.00" text-anchor="end" stroke="#000" stroke-width="0.12" transform="translate(1302.50 908.10) scale(1 1.040)">10</text>
<line x1="1307.50" y1="848.90" x2="1314.00" y2="848.90" stroke="#000" stroke-width="1.5"/>
<text font-size="28.00" text-anchor="end" stroke="#000" stroke-width="0.12" transform="translate(1302.50 857.30) scale(1 1.040)">12</text>
<text font-size="28.00" stroke="#000" stroke-width="0.12" transform="translate(1329.00 851.60) scale(1 1.000)">CO uptake</text>
<text font-size="28.00" stroke="#000" stroke-width="0.12" transform="translate(1329.00 889.60) scale(1 1.000)">after oxidation at 550 <tspan dy="-10.36" font-size="19.60">o</tspan><tspan dy="10.36">C</tspan></text>
<text font-size="28.20" text-anchor="middle" stroke="#000" stroke-width="0.12" transform="translate(1219.90 988.00) rotate(-90) scale(1 1.000)">CO uptake</text>
<text font-size="28.20" text-anchor="middle" stroke="#000" stroke-width="0.12" transform="translate(1258.70 988.00) rotate(-90) scale(1 1.000)">(μmol[CO] m<tspan dy="0.00" font-size="18.33">ceria</tspan><tspan dy="-12.13" font-size="19.74">-2</tspan><tspan dy="12.13">)</tspan></text>
<text font-size="28.00" text-anchor="middle" stroke="#000" stroke-width="0.12" transform="translate(1384.50 1185.50) scale(1 1.040)">3.7CA</text>
<text font-size="28.00" text-anchor="middle" stroke="#000" stroke-width="0.12" transform="translate(1476.50 1185.50) scale(1 1.040)">5.6CA</text>
<text font-size="28.00" text-anchor="middle" stroke="#000" stroke-width="0.12" transform="translate(1567.00 1185.50) scale(1 1.040)">7.3CA</text>
<text font-size="28.00" stroke="#000" stroke-width="0.12" transform="translate(1619.50 1185.50) scale(1 1.040)">Pt/CeO<tspan dy="8.96" font-size="19.04">2</tspan></text>
</g>
<g id="panel-g">
<text font-size="45.00" stroke="#000" stroke-width="0.3" transform="translate(-2.20 1281.10) scale(1 1.000)">(g)</text>
<text font-size="38.30" font-weight="bold" transform="translate(218.50 1333.30) scale(1 1.000)">O<tspan dy="10.15" font-size="26.04">2</tspan><tspan dy="-10.15"> activation</tspan></text>
<path d="M175.60,1590.80 A164.30,100.00 0 0 1 503.80,1590.80 Z" fill="#ffd966"/>
<circle cx="474.40" cy="1536.80" r="16.60" fill="#70ad47"/>
<text transform="translate(497.40 1561.40) scale(0.950 1)" font-size="34.50" font-weight="bold" stroke="#000" stroke-width="0.6" stroke-linejoin="round">Pt</text>
<text transform="translate(243.90 1573.90) scale(0.920 1)" font-size="34.50" font-weight="bold" stroke="#000" stroke-width="0.6" stroke-linejoin="round">CeO</text>
<text transform="translate(310.30 1582.90) scale(0.900 1)" font-size="24.00" font-weight="bold" stroke="#000" stroke-width="0.6" stroke-linejoin="round">x</text>
<text transform="translate(342.90 1428.00) scale(0.920 1)" font-size="35.20" font-weight="bold" stroke="#000" stroke-width="0.6" stroke-linejoin="round">O</text>
<text transform="translate(370.30 1436.70) scale(0.900 1)" font-size="24.00" font-weight="bold" stroke="#000" stroke-width="0.6" stroke-linejoin="round">2</text>
<rect x="314.15" y="1486.65" width="32.10" height="31.40" fill="#fff" stroke="none" stroke-width="1"/>
<path d="M315.00,1486.65 L329.50,1486.65 M340.90,1486.65 L347.80,1486.65 M346.25,1485.10 L346.25,1496.50 M346.25,1508.20 L346.25,1519.60 M314.30,1518.05 L329.50,1518.05 M340.20,1518.05 L347.80,1518.05 M314.15,1497.20 L314.15,1511.70" fill="none" stroke="#000" stroke-width="3.1"/>
<text transform="translate(329.00 1514.80) scale(0.890 1)" font-size="36.50" font-weight="bold" text-anchor="middle" stroke="#000" stroke-width="0.6" stroke-linejoin="round">O</text>
<polygon points="346.82,1437.77 337.29,1465.83 326.59,1462.19 337.80,1483.00 359.36,1473.32 348.66,1469.68 358.18,1441.63" fill="#002060"/>
<text font-size="38.30" text-anchor="middle" font-weight="bold" transform="translate(931.30 1283.60) scale(1 1.000)">O<tspan dy="10.15" font-size="26.04">2</tspan><tspan dy="-10.15"> activation &amp;</tspan></text>
<text font-size="38.30" text-anchor="middle" font-weight="bold" transform="translate(930.80 1330.70) scale(1 1.000)">lattice oxygen</text>
<text font-size="38.30" text-anchor="middle" font-weight="bold" transform="translate(936.80 1377.00) scale(1 1.000)">transfer in</text>
<path d="M762.64,1589.00 A164.30,100.00 0 0 1 1090.96,1589.00 Z" fill="#ffd966"/>
<circle cx="1062.50" cy="1539.20" r="16.60" fill="#70ad47"/>
<text transform="translate(1085.40 1563.60) scale(0.950 1)" font-size="34.50" font-weight="bold" stroke="#000" stroke-width="0.6" stroke-linejoin="round">Pt</text>
<text transform="translate(831.10 1571.60) scale(0.920 1)" font-size="34.50" font-weight="bold" stroke="#000" stroke-width="0.6" stroke-linejoin="round">CeO</text>
<text transform="translate(897.50 1580.30) scale(0.900 1)" font-size="24.00" font-weight="bold" stroke="#000" stroke-width="0.6" stroke-linejoin="round">x</text>
<text transform="translate(954.20 1440.70) scale(0.920 1)" font-size="35.20" font-weight="bold" stroke="#000" stroke-width="0.6" stroke-linejoin="round">O</text>
<text transform="translate(981.40 1450.60) scale(0.900 1)" font-size="24.00" font-weight="bold" stroke="#000" stroke-width="0.6" stroke-linejoin="round">2</text>
<rect x="901.75" y="1483.55" width="31.10" height="31.60" fill="#fff" stroke="none" stroke-width="1"/>
<path d="M902.60,1483.55 L917.10,1483.55 M928.50,1483.55 L934.40,1483.55 M932.85,1482.00 L932.85,1493.40 M932.85,1505.10 L932.85,1516.70 M901.90,1515.15 L917.10,1515.15 M927.80,1515.15 L934.40,1515.15 M901.75,1494.10 L901.75,1508.60" fill="none" stroke="#000" stroke-width="3.1"/>
<text transform="translate(919.40 1514.00) scale(0.890 1)" font-size="36.50" font-weight="bold" text-anchor="middle" stroke="#000" stroke-width="0.6" stroke-linejoin="round">O</text>
<rect x="928.45" y="1540.85" width="31.90" height="31.10" fill="#fff" stroke="none" stroke-width="1"/>
<path d="M929.30,1540.85 L943.80,1540.85 M955.20,1540.85 L961.90,1540.85 M960.35,1539.30 L960.35,1550.70 M960.35,1562.40 L960.35,1573.50 M928.60,1571.95 L943.80,1571.95 M954.50,1571.95 L961.90,1571.95 M928.45,1551.40 L928.45,1565.90" fill="none" stroke="#000" stroke-width="3.1"/>
<text transform="translate(946.10 1570.50) scale(0.890 1)" font-size="36.50" font-weight="bold" text-anchor="middle" stroke="#000" stroke-width="0.6" stroke-linejoin="round">O</text>
<polygon points="934.74,1435.02 924.66,1463.82 913.99,1460.09 925.00,1481.00 946.65,1471.52 935.98,1467.79 946.06,1438.98" fill="#002060"/>
<polygon points="922.14,1515.15 928.31,1534.69 920.73,1537.08 938.30,1545.90 947.62,1528.59 940.04,1530.98 933.86,1511.45" fill="#385723"/>
<text font-size="38.30" text-anchor="middle" font-weight="bold" transform="translate(1522.30 1280.70) scale(1 1.000)">Surface/lattice</text>
<text font-size="38.30" text-anchor="middle" font-weight="bold" transform="translate(1521.40 1326.70) scale(1 1.000)">oxygen transfer out</text>
<text font-size="38.30" text-anchor="middle" font-weight="bold" transform="translate(1521.80 1372.40) scale(1 1.000)">by CO oxidation</text>
<path d="M1359.08,1590.80 A164.30,100.00 0 0 1 1687.12,1590.80 Z" fill="#ffd966"/>
<text transform="translate(1427.30 1576.60) scale(0.920 1)" font-size="34.50" font-weight="bold" stroke="#000" stroke-width="0.6" stroke-linejoin="round">CeO</text>
<text transform="translate(1494.60 1584.60) scale(0.900 1)" font-size="24.00" font-weight="bold" stroke="#000" stroke-width="0.6" stroke-linejoin="round">x</text>
<text transform="translate(1486.30 1433.00) scale(0.900 1)" font-size="34.50" font-weight="bold" stroke="#000" stroke-width="0.6" stroke-linejoin="round">CO</text>
<text transform="translate(1533.30 1442.00) scale(0.900 1)" font-size="24.00" font-weight="bold" stroke="#000" stroke-width="0.6" stroke-linejoin="round">2</text>
<text transform="translate(1607.70 1446.70) scale(0.900 1)" font-size="34.50" font-weight="bold" stroke="#000" stroke-width="0.6" stroke-linejoin="round">CO</text>
<rect x="1546.85" y="1487.85" width="31.50" height="31.30" fill="#fff" stroke="none" stroke-width="1"/>
<path d="M1547.70,1487.85 L1562.20,1487.85 M1573.60,1487.85 L1579.90,1487.85 M1578.35,1486.30 L1578.35,1497.70 M1578.35,1509.40 L1578.35,1520.70 M1547.00,1519.15 L1562.20,1519.15 M1572.90,1519.15 L1579.90,1519.15 M1546.85,1498.40 L1546.85,1512.90" fill="none" stroke="#000" stroke-width="3.1"/>
<text transform="translate(1562.90 1518.00) scale(0.890 1)" font-size="36.50" font-weight="bold" text-anchor="middle" stroke="#000" stroke-width="0.6" stroke-linejoin="round">O</text>
<path d="M1515.00,1459.80 C1515.55,1461.03 1516.50,1464.35 1518.30,1467.20 C1520.10,1470.05 1522.68,1473.92 1525.80,1476.90 C1528.92,1479.88 1533.28,1483.12 1537.00,1485.10 C1540.72,1487.08 1543.77,1488.05 1548.10,1488.80 C1552.43,1489.55 1558.03,1489.60 1563.00,1489.60 C1567.97,1489.60 1574.17,1489.18 1577.90,1488.80 C1581.63,1488.42 1582.30,1488.53 1585.40,1487.30 C1588.50,1486.07 1593.03,1484.12 1596.50,1481.40 C1599.97,1478.68 1603.83,1474.60 1606.20,1471.00 C1608.57,1467.40 1609.70,1463.97 1610.70,1459.80 C1611.70,1455.63 1611.95,1448.30 1612.20,1446.00 L1598.80,1446.00 C1598.67,1447.68 1598.75,1452.82 1598.00,1456.10 C1597.25,1459.38 1596.40,1462.28 1594.30,1465.70 C1592.20,1469.12 1588.75,1473.60 1585.40,1476.60 C1582.05,1479.60 1577.93,1482.10 1574.20,1483.70 C1570.47,1485.30 1566.73,1486.20 1563.00,1486.20 C1559.27,1486.20 1555.52,1485.30 1551.80,1483.70 C1548.08,1482.10 1543.80,1479.35 1540.70,1476.60 C1537.60,1473.85 1535.18,1470.00 1533.20,1467.20 C1531.22,1464.40 1529.53,1461.03 1528.80,1459.80 L1536.6,1459.8 L1520.0,1445.1 L1507.2,1459.8 Z" fill="#002060"/>
<path d="M1605.60,1449.50 C1605.43,1451.00 1605.40,1455.42 1604.60,1458.50 C1603.80,1461.58 1602.82,1464.75 1600.80,1468.00 C1598.78,1471.25 1595.72,1475.17 1592.50,1478.00 C1589.28,1480.83 1583.33,1483.83 1581.50,1485.00" fill="none" stroke="#001a52" stroke-width="4.5"/>
<circle cx="1591.40" cy="1499.10" r="16.50" fill="#70ad47"/>
<text transform="translate(1618.50 1531.80) scale(0.950 1)" font-size="34.50" font-weight="bold" stroke="#000" stroke-width="0.6" stroke-linejoin="round">Pt</text>
<rect x="1574.15" y="1544.75" width="31.10" height="31.40" fill="#fff" stroke="none" stroke-width="1"/>
<path d="M1575.00,1544.75 L1589.50,1544.75 M1600.90,1544.75 L1606.80,1544.75 M1605.25,1543.20 L1605.25,1554.60 M1605.25,1566.30 L1605.25,1577.70 M1574.30,1576.15 L1589.50,1576.15 M1600.20,1576.15 L1606.80,1576.15 M1574.15,1555.30 L1574.15,1569.80" fill="none" stroke="#000" stroke-width="3.1"/>
<text transform="translate(1590.20 1579.00) scale(0.890 1)" font-size="36.50" font-weight="bold" text-anchor="middle" stroke="#000" stroke-width="0.6" stroke-linejoin="round">O</text>
<polygon points="1589.86,1547.33 1583.18,1527.41 1590.39,1525.00 1572.60,1516.30 1563.65,1533.96 1570.86,1531.55 1577.54,1551.47" fill="#385723"/>
</g>
</svg>
</body></html>
